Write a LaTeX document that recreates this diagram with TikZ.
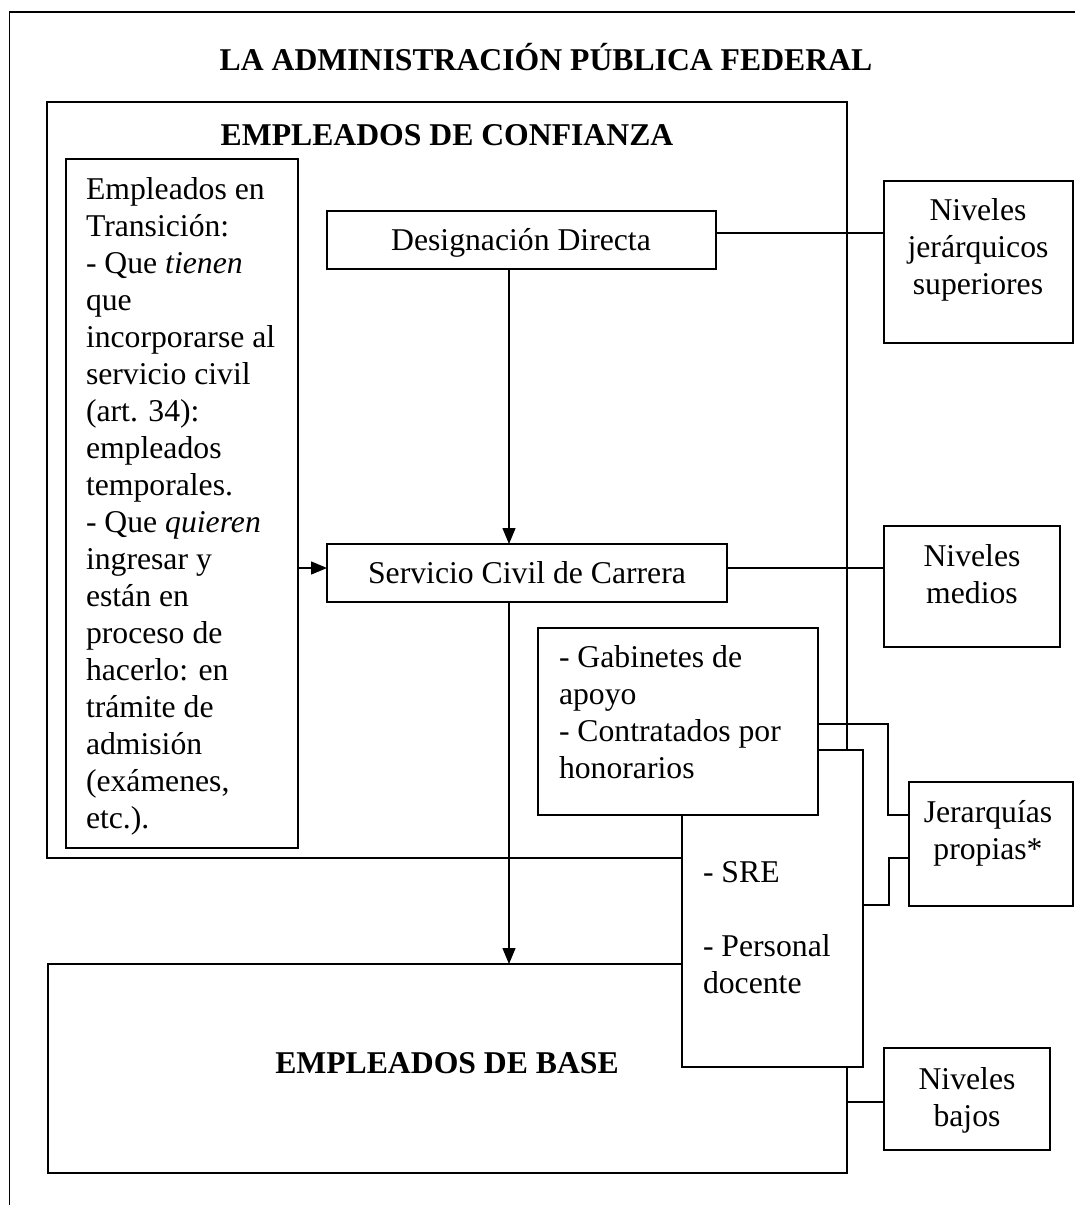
\documentclass[tikz,border=0pt]{standalone}
\usepackage{fontspec}
\setmainfont{Liberation Serif}
\usetikzlibrary{arrows.meta}
\tikzset{
  box/.style={draw, line width=1.4pt, fill=white, inner sep=0pt, outer sep=0pt, anchor=north west},
  txt/.style={inner sep=0pt, outer sep=0pt, font=\fontsize{31.7pt}{37pt}\selectfont},
  ttl/.style={txt, font=\fontsize{31.7pt}{37pt}\selectfont\bfseries, anchor=base},
  conn/.style={line width=1.4pt},
  arr/.style={line width=1.4pt, -{Triangle[length=16pt,width=13pt]}}
}
\begin{document}
\begin{tikzpicture}[x=1pt,y=-1pt]
\useasboundingbox (0,0) rectangle (1075,1205);
\clip (0,0) rectangle (1075,1205);
\fill[white] (0,0) rectangle (1075,1205);
% outer frame
\draw[conn] (9.5,1215) -- (9.5,12) -- (1085,12);
\node[ttl] (title) at (546,70.5) {LA ADMINISTRACIÓN PÚBLICA FEDERAL};
% big boxes
\node[box, minimum width=800pt, minimum height=756pt] (conf) at (47,102) {};
\node[ttl] (conftitle) at (447,145.5) {EMPLEADOS DE CONFIANZA};
\node[box, minimum width=799pt, minimum height=209pt] (base) at (48,964) {};
\node[ttl] (basetitle) at (447,1073.5) {EMPLEADOS DE BASE};
\node[box, minimum width=181pt, minimum height=317pt] (sre) at (682,750) {};
\node[box, minimum width=280pt, minimum height=187pt] (gab) at (538,628) {};
% inner boxes
\node[box, minimum width=232pt, minimum height=689pt] (trans) at (66,159) {};
\node[box, minimum width=389pt, minimum height=58pt] (desig) at (327,211) {};
\node[box, minimum width=400pt, minimum height=58pt] (serv) at (327,544) {};
% right boxes
\node[box, minimum width=189pt, minimum height=162pt] (sup) at (884,181) {};
\node[box, minimum width=176pt, minimum height=121pt] (med) at (884,526) {};
\node[box, minimum width=164pt, minimum height=124pt] (jer) at (909,782) {};
\node[box, minimum width=166pt, minimum height=102pt] (bajos) at (884,1048) {};
% texts (multi-line nodes: base anchor = baseline of the last line)
\node[txt, anchor=base west, align=left] (transtxt) at (86,828) {Empleados en\\Transición:\\- Que \textit{tienen}\\que\\incorporarse al\\servicio civil\\(art. 34):\\empleados\\temporales.\\- Que \textit{quieren}\\ingresar y\\están en\\proceso de\\hacerlo: en\\trámite de\\admisión\\(exámenes,\\etc.).};
\node[txt, anchor=base] (desigtxt) at (521,250) {Designación Directa};
\node[txt, anchor=base] (servtxt) at (527,583) {Servicio Civil de Carrera};
\node[txt, anchor=base, align=center] (suptxt) at (978,294) {Niveles\\jerárquicos\\superiores};
\node[txt, anchor=base, align=center] (medtxt) at (972,603) {Niveles\\medios};
\node[txt, anchor=base, align=center] (jertxt) at (988,859) {Jerarquías\\propias*};
\node[txt, anchor=base, align=center] (bajostxt) at (967,1126) {Niveles\\bajos};
\node[txt, anchor=base west, align=left] (gabtxt) at (559,778) {- Gabinetes de\\apoyo\\- Contratados por\\honorarios};
\node[txt, anchor=base west, align=left] (sretxt) at (703,993) {- SRE\\\mbox{}\\- Personal\\docente};
% arrows
\coordinate (ax) at (509,0);
\draw[arr] (desig.south -| ax) -- (serv.north -| ax);
\draw[arr] (serv.south -| ax) -- (base.north -| ax);
\coordinate (ay) at (0,568);
\draw[arr] (trans.east |- ay) -- (serv.west |- ay);
% connectors
\coordinate (c1) at (0,233);
\draw[conn] (desig.east |- c1) -- (sup.west |- c1);
\draw[conn] (serv.east |- ay) -- (med.west |- ay);
\coordinate (g1) at (888,724);
\coordinate (g2) at (888,815);
\draw[conn] (gab.east |- g1) -- (g1) -- (g2) -- (jer.west |- g2);
\coordinate (s1) at (889,905);
\coordinate (s2) at (889,858);
\draw[conn] (sre.east |- s1) -- (s1) -- (s2) -- (jer.west |- s2);
\coordinate (b1) at (0,1102);
\draw[conn] (base.east |- b1) -- (bajos.west |- b1);
\end{tikzpicture}
\end{document}
